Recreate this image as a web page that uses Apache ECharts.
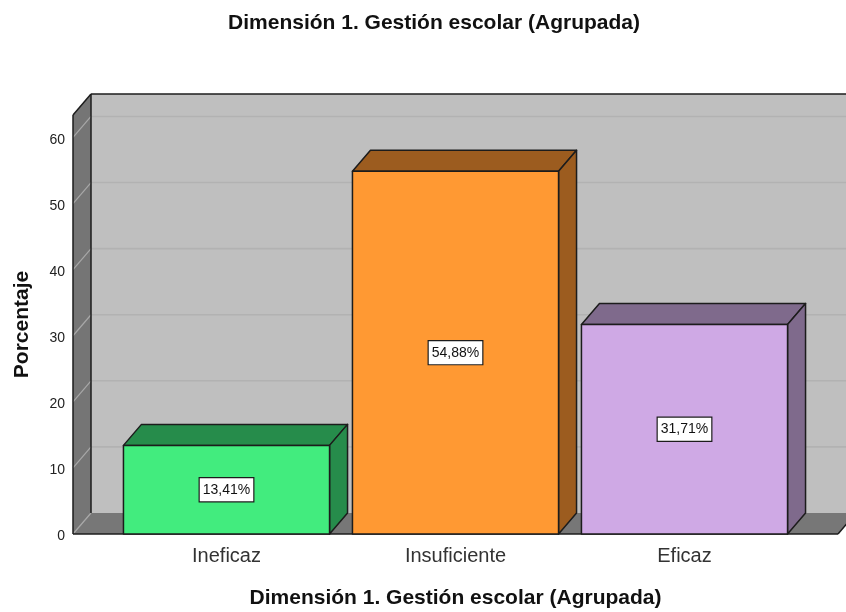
<!DOCTYPE html>
<html>
<head>
<meta charset="utf-8">
<script src="https://cdn.jsdelivr.net/npm/echarts@6/dist/echarts.min.js"></script>
<style>
  html, body { margin: 0; background: #fff; }
  #main { width: 846px; height: 612px; }
</style>
</head>
<body>
<div id="main"></div>
<script>
const categories = ['Ineficaz', 'Insuficiente', 'Eficaz']
const percentages = [13.41, 54.88, 31.71]
const frontColors = ['#42ec7e', '#ff9933', '#cfa9e5']
const sideColors = ['#268c4b', '#9c5c1f', '#7f6a8c']
const yTicks = [0, 10, 20, 30, 40, 50, 60]

const titleText = 'Dimensión 1. Gestión escolar (Agrupada)'
const font = '"Liberation Sans", Arial, sans-serif'
const edge = '#1c1c1c'
// profundidad del efecto 3D
const depthX = 18
const depthY = 21
// las paredes sobresalen de la banda de categorias
const wallPad = 39

function renderWalls(params, api) {
  const c = params.coordSys
  const left = c.x - wallPad
  const right = c.x + c.width + wallPad
  const top = c.y
  const bottom = c.y + c.height
  const children = []
  const poly = (points, fill) => ({
    type: 'polygon',
    shape: { points: points },
    style: { fill: fill, stroke: null }
  })
  const line = (x1, y1, x2, y2, color, w) => ({
    type: 'line',
    shape: { x1: x1, y1: y1, x2: x2, y2: y2 },
    style: { stroke: color, lineWidth: w }
  })
  children.push(poly([[left + depthX, top - depthY], [right + depthX, top - depthY], [right + depthX, bottom - depthY], [left + depthX, bottom - depthY]], '#bfbfbf'))
  children.push(poly([[left, top], [left + depthX, top - depthY], [left + depthX, bottom - depthY], [left, bottom]], '#757575'))
  children.push(poly([[left, bottom], [left + depthX, bottom - depthY], [right + depthX, bottom - depthY], [right, bottom]], '#777777'))
  yTicks.forEach(t => {
    const y = api.coord([0, t])[1]
    children.push(line(left, y, left + depthX, y - depthY, '#a8a8a8', 1.2))
    if (t > 0) children.push(line(left + depthX, y - depthY, right + depthX, y - depthY, '#b2b2b2', 1.6))
  })
  children.push(line(left, top, left, bottom, edge, 1.5))
  children.push(line(left + depthX, top - depthY, left + depthX, bottom - depthY, edge, 1.5))
  children.push(line(left, top, left + depthX, top - depthY, edge, 1.5))
  children.push(line(left + depthX, top - depthY, right + depthX, top - depthY, edge, 1.5))
  children.push(line(left, bottom, right, bottom, edge, 1.5))
  children.push(line(right, bottom, right + depthX, bottom - depthY, edge, 1.5))
  return { type: 'group', children: children }
}

function renderBar(params, api) {
  const i = api.value(0)
  const val = api.value(1)
  const base = api.coord([i, 0])
  const tip = api.coord([i, val])
  const w = api.size([1, 0])[0] * 0.9
  const x0 = base[0] - w / 2
  const x1 = base[0] + w / 2
  const y0 = tip[1]
  const y1 = base[1]
  const stroke = { stroke: edge, lineWidth: 1.5, lineJoin: 'round' }
  return {
    type: 'group',
    children: [
      {
        type: 'polygon',
        shape: { points: [[x0, y0], [x0 + depthX, y0 - depthY], [x1 + depthX, y0 - depthY], [x1, y0]] },
        style: Object.assign({ fill: sideColors[i] }, stroke)
      },
      {
        type: 'polygon',
        shape: { points: [[x1, y0], [x1 + depthX, y0 - depthY], [x1 + depthX, y1 - depthY], [x1, y1]] },
        style: Object.assign({ fill: sideColors[i] }, stroke)
      },
      {
        type: 'rect',
        shape: { x: x0, y: y0, width: x1 - x0, height: y1 - y0 },
        style: Object.assign({ fill: frontColors[i] }, stroke)
      },
      {
        type: 'text',
        x: base[0],
        y: (y0 + y1) / 2,
        style: {
          text: val.toFixed(2).replace('.', ',') + '%',
          font: '14px ' + font,
          fill: '#111',
          align: 'center',
          verticalAlign: 'middle',
          backgroundColor: '#fff',
          borderColor: edge,
          borderWidth: 1.2,
          padding: [5, 3, 4, 3]
        }
      }
    ]
  }
}

const chart = echarts.init(document.getElementById('main'), null, { renderer: 'canvas' })
chart.setOption({
  animation: false,
  backgroundColor: '#fff',
  title: {
    text: titleText,
    left: 429,
    top: 8,
    textAlign: 'center',
    textStyle: { fontFamily: font, fontSize: 21, fontWeight: 'bold', color: '#111' }
  },
  grid: { left: 112, top: 115, width: 687, height: 419, outerBoundsMode: 'none' },
  xAxis: {
    type: 'category',
    data: categories,
    axisLine: { show: false },
    axisTick: { show: false },
    axisLabel: { fontFamily: font, fontSize: 20, color: '#333', margin: 12 },
    name: titleText,
    nameLocation: 'middle',
    nameGap: 54,
    nameTextStyle: { fontFamily: font, fontSize: 21, fontWeight: 'bold', color: '#111' }
  },
  yAxis: {
    type: 'value',
    min: 0,
    max: 63.4,
    interval: 10,
    offset: wallPad,
    splitLine: { show: false },
    axisLine: { show: false },
    axisTick: { show: false },
    axisLabel: {
      color: '#222',
      margin: 8,
      showMaxLabel: false,
      formatter: '{t|{value}}',
      rich: {
        t: { fontFamily: font, fontSize: 14, color: '#222', padding: [5, 0, 0, 0] }
      }
    },
    name: 'Porcentaje',
    nameLocation: 'middle',
    nameGap: 40,
    nameTextStyle: { fontFamily: font, fontSize: 21, fontWeight: 'bold', color: '#111' }
  },
  series: [
    {
      type: 'custom',
      renderItem: renderWalls,
      data: [[0, 0]],
      silent: true,
      z: 1
    },
    {
      type: 'custom',
      renderItem: renderBar,
      data: percentages.map((v, i) => [i, v]),
      encode: { x: 0, y: 1 },
      z: 2
    }
  ]
})
</script>
</body>
</html>
